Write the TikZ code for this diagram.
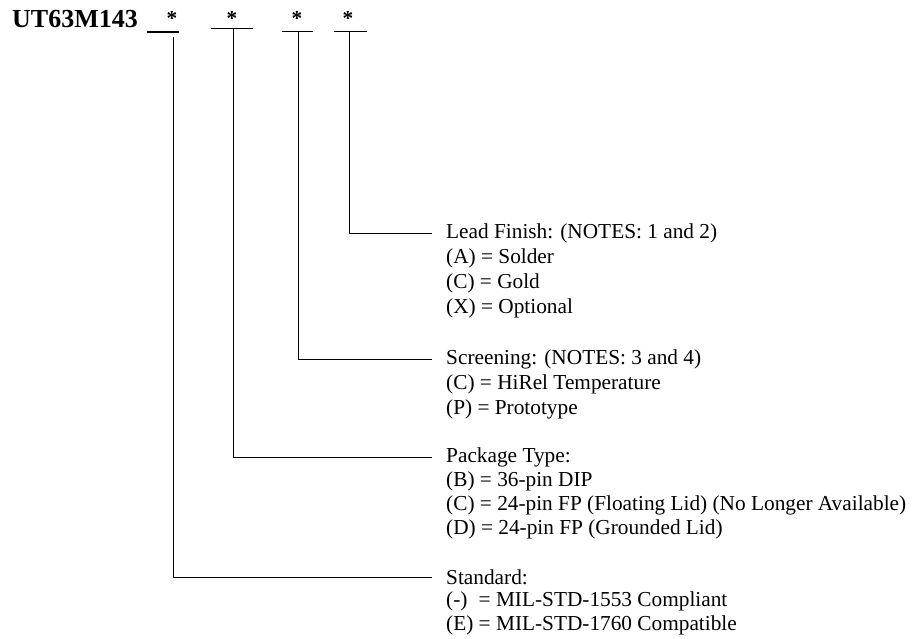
\documentclass[tikz,border=0pt]{standalone}
\usepackage{fontspec}
\setmainfont{Liberation Serif}
\begin{document}
\begin{tikzpicture}[x=1pt,y=-1pt,
  txt/.style={anchor=west,inner sep=0pt,font=\fontsize{21.3}{24}\selectfont},
  ast/.style={anchor=base,inner sep=0pt,font=\fontsize{21.3}{24}\selectfont\bfseries},
  conn/.style={line width=1pt,shorten >=14pt},
  uline/.style={line width=1pt}]
\useasboundingbox (0,0) rectangle (912,639);
% title
\node[anchor=base west,inner sep=0pt,font=\fontsize{26}{28}\selectfont\bfseries] (title) at (12,27.5) {UT63M143};
% asterisks
\node[ast] (a1) at (172,26) {*};
\node[ast] (a2) at (232,26) {*};
\node[ast] (a3) at (297,26) {*};
\node[ast] (a4) at (348,26) {*};
% underline end points
\coordinate (u1l) at (147,32); \coordinate (u1r) at (179,32);
\coordinate (u2l) at (211,28); \coordinate (u2r) at (253,28);
\coordinate (u3l) at (282,32); \coordinate (u3r) at (313,32);
\coordinate (u4l) at (334,32); \coordinate (u4r) at (367,32);
\draw[line width=2.5pt] (u1l) -- (u1r);
\draw[line width=0.8pt] (u2l) -- (u2r);
\draw[uline] (u3l) -- (u3r);
\draw[uline] (u4l) -- (u4r);
% top of the verticals
\coordinate (c1) at (173,37);
\coordinate (c2) at (233,28);
\coordinate (c3) at (298,32);
\coordinate (c4) at (349,32);
% Lead finish block
\node[txt] (lead) at (446,233) {Lead Finish: (NOTES: 1 and 2)};
\node[txt] (leadA) at (446,258) {(A) = Solder};
\node[txt] (leadC) at (446,283) {(C) = Gold};
\node[txt] (leadX) at (446,308) {(X) = Optional};
% Screening block
\node[txt] (scr) at (446,359) {Screening: (NOTES: 3 and 4)};
\node[txt] (scrC) at (446,384) {(C) = HiRel Temperature};
\node[txt] (scrP) at (446,409) {(P) = Prototype};
% Package block
\node[txt] (pkg) at (446,457) {Package Type:};
\node[txt] (pkgB) at (446,481) {(B) = 36-pin DIP};
\node[txt] (pkgC) at (446,505) {(C) = 24-pin FP (Floating Lid) (No Longer Available)};
\node[txt] (pkgD) at (446,529) {(D) = 24-pin FP (Grounded Lid)};
% Standard block
\node[txt] (std) at (446,577) {Standard:};
\node[txt] (stdM) at (446,601) {\rlap{(-)}\hphantom{(E)} = MIL-STD-1553 Compliant};
\node[txt] (stdE) at (446,625) {(E) = MIL-STD-1760 Compatible};
% connectors
\draw[conn] (c4) |- (lead.west);
\draw[conn] (c3) |- (scr.west);
\draw[conn] (c2) |- (pkg.west);
\draw[conn] (c1) |- (std.west);
\end{tikzpicture}
\end{document}
